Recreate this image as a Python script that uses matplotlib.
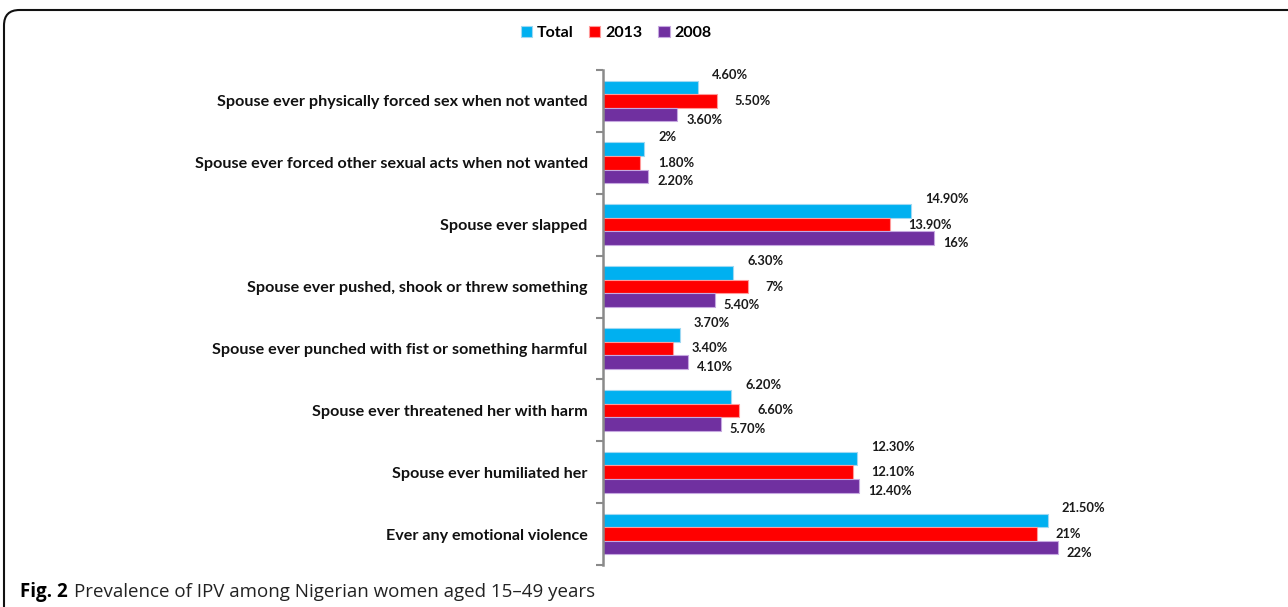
import numpy as np
import matplotlib
matplotlib.use("Agg")
import matplotlib.pyplot as plt
from matplotlib.patches import FancyBboxPatch

categories = [
    "Spouse ever physically forced sex when not wanted",
    "Spouse ever forced other sexual acts when not wanted",
    "Spouse ever slapped",
    "Spouse ever pushed, shook or threw something",
    "Spouse ever punched with fist or something harmful",
    "Spouse ever threatened her with harm",
    "Spouse ever humiliated her",
    "Ever any emotional violence",
]
total = [4.6, 2.0, 14.9, 6.3, 3.7, 6.2, 12.3, 21.5]
y2013 = [5.5, 1.8, 13.9, 7.0, 3.4, 6.6, 12.1, 21.0]
y2008 = [3.6, 2.2, 16.0, 5.4, 4.1, 5.7, 12.4, 22.0]
series_names = ["Total", "2013", "2008"]

colors = ["#00B0F0", "#FF0000", "#7030A0"]
edges = ["#9ED8F2", "#FF9A9A", "#C6A8E0"]
# label offsets in pixels (dx, dy) per series
lab_off = [(14, 12), (18, 0), (9, -5)]

plt.rcParams["font.family"] = ["Lato", "DejaVu Sans"]

W, H = 1288, 607
fig = plt.figure(figsize=(W / 100, H / 100), dpi=100)

# axes placed in pixel terms
x0, x1 = 603, 1250
ytop, ybot = 70, 565
ax = fig.add_axes([x0 / W, 1 - ybot / H, (x1 - x0) / W, (ybot - ytop) / H])

n = len(categories)
idx = np.arange(n)
bh = 0.22
data = [total, y2013, y2008]
for k, (vals, c, e) in enumerate(zip(data, colors, edges)):
    pos = idx + (k - 1) * bh
    ax.barh(pos, vals, height=bh, color=c, edgecolor=e, linewidth=0.8,
            label=series_names[k], zorder=2)
    for p, v in zip(pos, vals):
        txt = "%d%%" % v if float(v).is_integer() else "%.2f%%" % v
        ax.annotate(txt, (v, p), xytext=lab_off[k], textcoords="offset pixels",
                    ha="left", va="center", fontsize=9.3, fontweight="bold",
                    color="#1a1a1a")

ax.set_xlim(0, (x1 - x0) / 20.68)
ax.set_ylim(n - 0.5, -0.5)
ax.set_yticks(idx)
ax.set_yticklabels(categories, fontsize=11.6, fontweight="bold", color="#111111")
ax.set_yticks(np.arange(n + 1) - 0.5, minor=True)
ax.tick_params(axis="y", which="major", length=0, pad=11)
ax.tick_params(axis="y", which="minor", length=5, width=1.5, color="#8a8a8a")
ax.set_xticks([])
for s in ["top", "right", "bottom"]:
    ax.spines[s].set_visible(False)
ax.spines["left"].set_color("#8a8a8a")
ax.spines["left"].set_linewidth(1.8)

leg = fig.legend(loc="center", bbox_to_anchor=(616 / W, 1 - 33 / H), ncol=3,
                 frameon=False, handlelength=0.7, handleheight=0.7,
                 handletextpad=0.3, columnspacing=1.0,
                 prop={"weight": "bold", "size": 11.5})

# caption
cap_font = ["Open Sans", "DejaVu Sans"]
fig.text(20 / W, 1 - 592 / H, "Fig. 2", fontsize=13.5, fontweight="bold",
         va="center", ha="left", family=cap_font)
fig.text(74 / W, 1 - 592 / H, "Prevalence of IPV among Nigerian women aged 15\u201349 years",
         fontsize=13.5, va="center", ha="left", family=cap_font,
         color="#222222")

# rounded frame, partly outside the picture
frame = FancyBboxPatch((4 / W, -20 / H), (W + 20) / W, (H - 10 + 20) / H,
                       boxstyle="round,pad=0,rounding_size=0.012",
                       transform=fig.transFigure, fill=False,
                       edgecolor="#111111", linewidth=1.5, mutation_aspect=W / H)
fig.patches.append(frame)

fig.savefig("out.png", dpi=100)
